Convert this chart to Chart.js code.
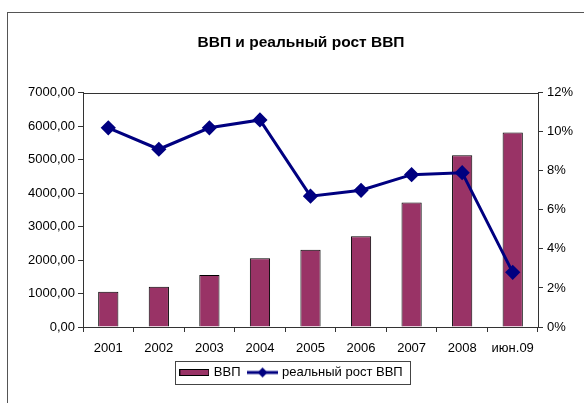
<!DOCTYPE html>
<html>
<head>
<meta charset="utf-8">
<script src="https://cdn.jsdelivr.net/npm/chart.js@4"></script>
<style>
  html, body { margin: 0; padding: 0; background: #fff; }
  #wrap { position: relative; width: 584px; height: 403px; overflow: hidden; }
  #frame { position: absolute; left: 7px; top: 12px; width: 600px; height: 420px;
           border-left: 1px solid #555; border-top: 1px solid #555; }
  canvas { position: absolute; left: 0; top: 0; }
</style>
</head>
<body>
<div id="wrap">
  <div id="frame"></div>
  <canvas id="gdpChart" width="584" height="403"></canvas>
</div>
<script>
const categories = ["2001", "2002", "2003", "2004", "2005", "2006", "2007", "2008", "июн.09"];
const gdpValues = [1050, 1200, 1550, 2050, 2310, 2710, 3720, 5130, 5810];
const growthValues = [10.2, 9.1, 10.2, 10.6, 6.7, 7.0, 7.8, 7.9, 2.8];
const leftTicks = [0, 7000, 1000];
const rightTicks = [0, 12, 2];

const FONT = "'Liberation Sans', Arial, sans-serif";
const BAR_COLOR = "#993366";
const LINE_COLOR = "#000080";

function makeSwatch(w, h, draw) {
    const c = document.createElement("canvas");
    c.width = w;
    c.height = h;
    draw(c.getContext("2d"));
    return c;
}

const barSwatch = makeSwatch(30, 7, (ctx) => {
    ctx.fillStyle = BAR_COLOR;
    ctx.fillRect(0, 0, 30, 7);
    ctx.strokeStyle = "#000";
    ctx.lineWidth = 1;
    ctx.strokeRect(0.5, 0.5, 29, 6);
});

const lineSwatch = makeSwatch(31, 12, (ctx) => {
    ctx.strokeStyle = LINE_COLOR;
    ctx.lineWidth = 3;
    ctx.beginPath();
    ctx.moveTo(0, 6);
    ctx.lineTo(31, 6);
    ctx.stroke();
    ctx.fillStyle = LINE_COLOR;
    ctx.beginPath();
    ctx.moveTo(15.5, 1);
    ctx.lineTo(20.5, 6);
    ctx.lineTo(15.5, 11);
    ctx.lineTo(10.5, 6);
    ctx.closePath();
    ctx.fill();
});

// top border of the plot, box around the legend, title nudged right
const framePlugin = {
    id: "frames",
    afterLayout(chart) {
        if (chart.titleBlock) chart.titleBlock.left += 18;
    },
    afterDraw(chart) {
        const ctx = chart.ctx;
        const a = chart.chartArea;
        ctx.save();
        ctx.strokeStyle = "#333";
        ctx.lineWidth = 1;
        ctx.beginPath();
        ctx.moveTo(a.left, Math.round(a.top) + 0.5);
        ctx.lineTo(a.right, Math.round(a.top) + 0.5);
        ctx.stroke();

        const boxes = chart.legend.legendHitBoxes;
        if (boxes && boxes.length) {
            const left = Math.min(...boxes.map(b => b.left)) - 6;
            const right = Math.max(...boxes.map(b => b.left + b.width)) + 8;
            const top = Math.min(...boxes.map(b => b.top)) - 5;
            const bottom = Math.max(...boxes.map(b => b.top + b.height)) + 5;
            ctx.strokeStyle = "#444";
            ctx.strokeRect(Math.round(left) + 0.5, Math.round(top) + 0.5,
                Math.round(right - left), Math.round(bottom - top));
        }
        ctx.restore();
    }
};

const ctx = document.getElementById("gdpChart").getContext("2d");
new Chart(ctx, {
    type: "bar",
    data: {
        labels: categories,
        datasets: [
            {
                type: "bar",
                label: "ВВП",
                data: gdpValues,
                yAxisID: "y",
                backgroundColor: BAR_COLOR,
                borderColor: "#000",
                borderWidth: 1,
                barPercentage: 0.8,
                categoryPercentage: 0.5,
                order: 1
            },
            {
                type: "line",
                label: "реальный рост ВВП",
                data: growthValues,
                yAxisID: "y1",
                borderColor: LINE_COLOR,
                backgroundColor: LINE_COLOR,
                borderWidth: 3,
                tension: 0,
                pointStyle: "rectRot",
                pointRadius: 5.5,
                pointBackgroundColor: LINE_COLOR,
                pointBorderColor: LINE_COLOR,
                order: 0
            }
        ]
    },
    options: {
        responsive: false,
        devicePixelRatio: 1,
        animation: false,
        layout: { padding: { left: 0, right: 0, top: 0, bottom: 14 } },
        plugins: {
            tooltip: { enabled: false },
            title: {
                display: true,
                text: "ВВП и реальный рост ВВП",
                color: "#000",
                font: { family: FONT, size: 15.5, weight: "bold" },
                padding: { top: 33, bottom: 41 }
            },
            legend: {
                position: "bottom",
                labels: {
                    color: "#000",
                    font: { family: FONT, size: 13 },
                    usePointStyle: true,
                    pointStyleWidth: 26,
                    boxHeight: 8,
                    padding: 9,
                    generateLabels: (chart) => chart.data.datasets.map((ds, i) => ({
                        text: ds.label,
                        pointStyle: i === 0 ? barSwatch : lineSwatch,
                        fillStyle: "transparent",
                        strokeStyle: "transparent",
                        lineWidth: 0,
                        fontColor: "#000",
                        hidden: false,
                        datasetIndex: i
                    }))
                }
            }
        },
        scales: {
            x: {
                grid: { display: true, drawOnChartArea: false, offset: true, tickLength: 5, color: "#333" },
                border: { color: "#333" },
                ticks: { color: "#000", font: { family: FONT, size: 13 }, padding: 9, maxRotation: 0, autoSkip: false },
                afterFit(scale) { scale.height = 30; }
            },
            y: {
                position: "left",
                min: leftTicks[0],
                max: leftTicks[1],
                grid: { drawOnChartArea: false, tickLength: 5, color: "#333" },
                border: { color: "#333" },
                ticks: {
                    stepSize: leftTicks[2],
                    color: "#000",
                    font: { family: FONT, size: 13 },
                    padding: 3,
                    callback: (v) => v.toFixed(2).replace(".", ",")
                },
                afterFit(scale) { scale.width = 83; }
            },
            y1: {
                position: "right",
                min: rightTicks[0],
                max: rightTicks[1],
                grid: { drawOnChartArea: false, tickLength: 5, color: "#333" },
                border: { color: "#333" },
                ticks: {
                    stepSize: rightTicks[2],
                    color: "#000",
                    font: { family: FONT, size: 13 },
                    padding: 4,
                    callback: (v) => v + "%"
                },
                afterFit(scale) { scale.width = 46; }
            }
        }
    },
    plugins: [framePlugin]
});
</script>
</body>
</html>
